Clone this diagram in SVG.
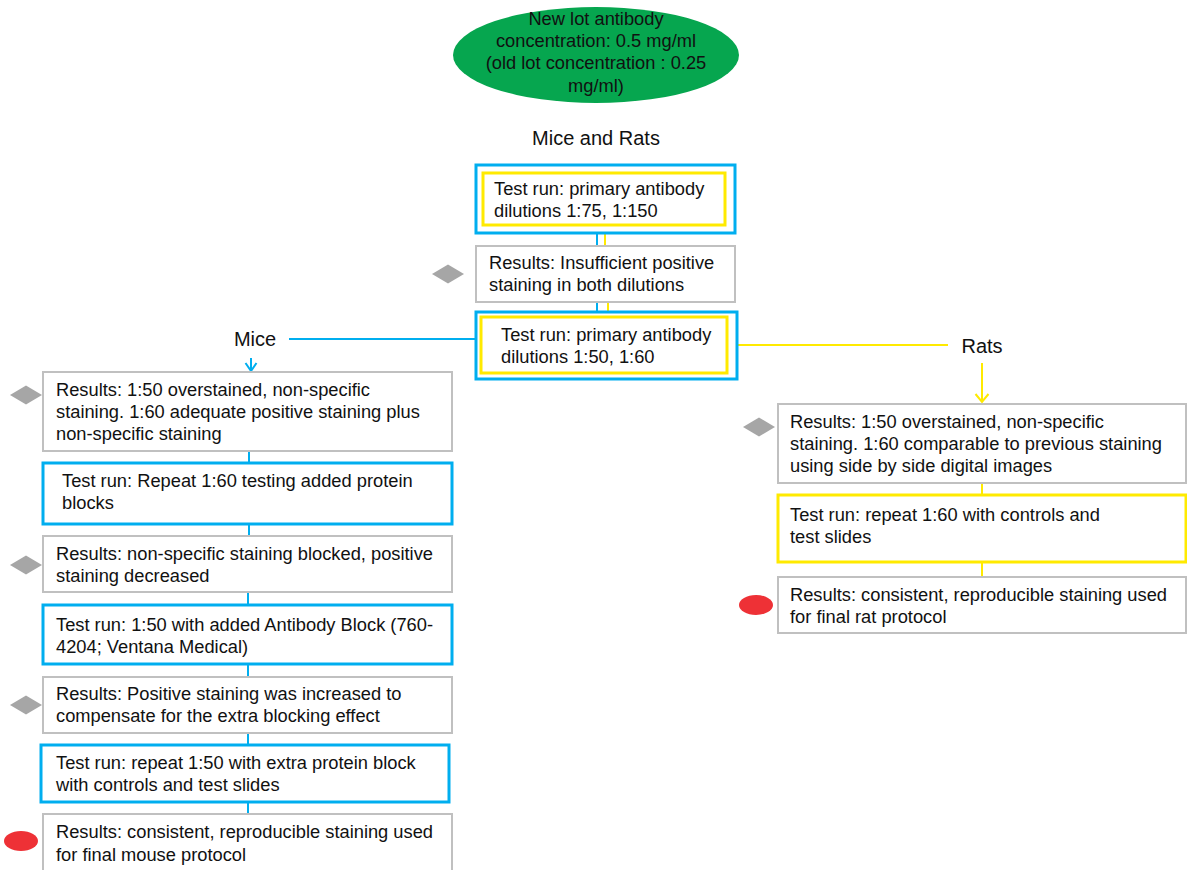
<svg xmlns="http://www.w3.org/2000/svg" width="1187" height="870" viewBox="0 0 1187 870">
<style>
text{font-family:"Liberation Sans",Arial,sans-serif;font-size:18.3px;fill:#111}
.c{text-anchor:middle}
.lbl{font-size:20px}
.res{fill:#fff;stroke:#c0c0c0;stroke-width:2}
.tb{fill:#fff;stroke:#00aeef;stroke-width:3}
.ty{fill:#fff;stroke:#ffea00;stroke-width:3}
.bl{stroke:#00aeef;stroke-width:2;fill:none}
.yl{stroke:#ffea00;stroke-width:2;fill:none}
.dia{fill:#a6a6a6}
.dot{fill:#ee3136}
</style>
<g id="connectors">
<line class="bl" x1="597" y1="233" x2="597" y2="246"/>
<line class="yl" x1="605" y1="226" x2="605" y2="246"/>
<line class="bl" x1="597" y1="302" x2="597" y2="312"/>
<line class="yl" x1="608" y1="302" x2="608" y2="317"/>
<line class="bl" x1="289" y1="339" x2="476" y2="339"/>
<line class="bl" x1="251" y1="358" x2="251" y2="371"/>
<polyline class="bl" points="245.5,363 251,371 256.5,363"/>
<line class="yl" x1="737" y1="345" x2="948" y2="345"/>
<line class="yl" x1="982" y1="363" x2="982" y2="402"/>
<polyline class="yl" points="975.5,394 982,402 988.5,394"/>
<line class="bl" x1="249" y1="451" x2="249" y2="463"/>
<line class="bl" x1="249" y1="524" x2="249" y2="536"/>
<line class="bl" x1="248" y1="592" x2="248" y2="605"/>
<line class="bl" x1="248" y1="664" x2="248" y2="677"/>
<line class="bl" x1="248" y1="733" x2="248" y2="745"/>
<line class="bl" x1="248" y1="802" x2="248" y2="814"/>
<line class="yl" x1="982" y1="483" x2="982" y2="495"/>
<line class="yl" x1="982" y1="562" x2="982" y2="577"/>
</g>
<g id="start">
<ellipse cx="596" cy="55" rx="143" ry="48" fill="#06a64f"/>
<text class="c" x="596" y="25">New lot antibody</text>
<text class="c" x="596" y="47">concentration: 0.5 mg/ml</text>
<text class="c" x="596" y="69">(old lot concentration : 0.25</text>
<text class="c" x="596" y="92">mg/ml)</text>
</g>
<g id="title"><text class="c lbl" x="596" y="145">Mice and Rats</text></g>
<g id="test1">
<rect class="tb" x="476" y="165" width="259" height="68"/>
<rect class="ty" x="483" y="173" width="242" height="52"/>
<text x="494" y="195">Test run: primary antibody</text>
<text x="494" y="217">dilutions 1:75, 1:150</text>
</g>
<g id="res1">
<path class="dia" d="M432,274 L448,264.5 L464,274 L448,283.5 Z"/>
<rect class="res" x="476" y="246" width="259" height="56"/>
<text x="489" y="269">Results: Insufficient positive</text>
<text x="489" y="291">staining in both dilutions</text>
</g>
<g id="test2">
<rect class="tb" x="476" y="312" width="261" height="67"/>
<rect class="ty" x="481" y="317" width="246" height="56"/>
<text x="501" y="341">Test run: primary antibody</text>
<text x="501" y="363">dilutions 1:50, 1:60</text>
</g>
<g id="mice"><text class="c lbl" x="255" y="346">Mice</text></g>
<g id="rats"><text class="c lbl" x="982" y="353">Rats</text></g>
<g id="m1">
<path class="dia" d="M10,395 L26,385.5 L42,395 L26,404.5 Z"/>
<rect class="res" x="43" y="372" width="409" height="79"/>
<text x="56" y="396">Results: 1:50 overstained, non-specific</text>
<text x="56" y="418">staining. 1:60 adequate positive staining plus</text>
<text x="56" y="440">non-specific staining</text>
</g>
<g id="m2">
<rect class="tb" x="43" y="463" width="409" height="61"/>
<text x="62" y="487">Test run: Repeat 1:60 testing added protein</text>
<text x="62" y="509">blocks</text>
</g>
<g id="m3">
<path class="dia" d="M10,565 L26,555.5 L42,565 L26,574.5 Z"/>
<rect class="res" x="43" y="536" width="409" height="56"/>
<text x="56" y="560">Results: non-specific staining blocked, positive</text>
<text x="56" y="582">staining decreased</text>
</g>
<g id="m4">
<rect class="tb" x="43" y="605" width="409" height="59"/>
<text x="56" y="631">Test run: 1:50 with added Antibody Block (760-</text>
<text x="56" y="653">4204; Ventana Medical)</text>
</g>
<g id="m5">
<path class="dia" d="M10,705 L26,695.5 L42,705 L26,714.5 Z"/>
<rect class="res" x="43" y="677" width="409" height="56"/>
<text x="56" y="700">Results: Positive staining was increased to</text>
<text x="56" y="722">compensate for the extra blocking effect</text>
</g>
<g id="m6">
<rect class="tb" x="41" y="745" width="408" height="57"/>
<text x="56" y="769">Test run: repeat 1:50 with extra protein block</text>
<text x="56" y="791">with controls and test slides</text>
</g>
<g id="m7">
<ellipse class="dot" cx="21" cy="841" rx="17" ry="10"/>
<rect class="res" x="43" y="814" width="409" height="60"/>
<text x="56" y="838">Results: consistent, reproducible staining used</text>
<text x="56" y="861">for final mouse protocol</text>
</g>
<g id="r1">
<path class="dia" d="M743,427 L759,417.5 L775,427 L759,436.5 Z"/>
<rect class="res" x="778" y="404" width="408" height="79"/>
<text x="790" y="428">Results: 1:50 overstained, non-specific</text>
<text x="790" y="450">staining. 1:60 comparable to previous staining</text>
<text x="790" y="472">using side by side digital images</text>
</g>
<g id="r2">
<rect class="ty" x="778" y="495" width="408" height="67"/>
<text x="790" y="521">Test run: repeat 1:60 with controls and</text>
<text x="790" y="543">test slides</text>
</g>
<g id="r3">
<ellipse class="dot" cx="756" cy="605" rx="17" ry="10"/>
<rect class="res" x="778" y="577" width="408" height="56"/>
<text x="790" y="601">Results: consistent, reproducible staining used</text>
<text x="790" y="623">for final rat protocol</text>
</g>
</svg>
